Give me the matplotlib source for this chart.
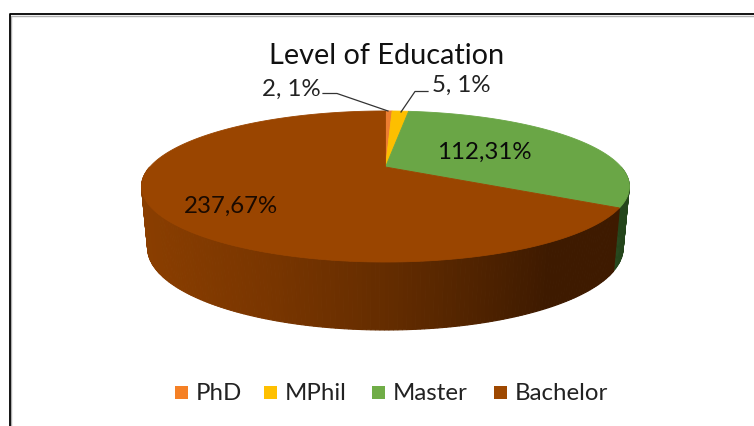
import numpy as np
import matplotlib
matplotlib.use('Agg')
import matplotlib.pyplot as plt
from matplotlib.patches import Polygon, Rectangle
from matplotlib.colors import LinearSegmentedColormap

plt.rcParams['font.family'] = ['Lato', 'DejaVu Sans']

labels = ['PhD', 'MPhil', 'Master', 'Bachelor']
values = [2, 5, 112, 237]
colors = ['#ed7d31', '#fdbf00', '#6aa646', '#9a4500']
swatch_colors = ['#f58025', '#ffc000', '#70ad47', '#9e4800']
label_texts = ['2, 1%', '5, 1%', '112,31%', '237,67%']

# projected pie geometry, in pixels
CX, CY = 385.5, 167
A, B, K = 235.7, 70.5, 0.258
SHRINK_X, SHRINK_Y, DEPTH = 0.975, 1.086, 59.8


def top(ang):
    # ang clockwise from north, circle pushed through a perspective
    u, v = np.sin(ang), np.cos(ang)
    w = 1 + K * v
    return CX + A * u / w, CY - B * v / w


def bottom(ang):
    x, y = top(ang)
    return CX + SHRINK_X * (x - CX), CY + SHRINK_Y * (y - CY) + DEPTH


def wall_strip(a0, a1, c, lw=0.8):
    pts = [top(a0), top(a1), bottom(a1), bottom(a0)]
    ax.add_patch(Polygon(pts, closed=True, fc=c, ec=c, lw=lw))


fig = plt.figure(figsize=(7.54, 4.26), dpi=100)
ax = fig.add_axes([0, 0, 1, 1])
ax.set_xlim(0, 754)
ax.set_ylim(426, 0)
ax.axis('off')

# frame of the screenshot
ax.plot([10.5, 10.5, 754], [426, 15.5, 15.5], color='#b0b0b0', lw=1.0)
ax.plot([9.5, 9.5, 754], [426, 14, 14], color='#000000', lw=1.3)

edges = np.concatenate([[0], np.cumsum(values)]) / sum(values) * 2 * np.pi

# green end of the wall, the brown one goes against it
green_angs = np.linspace(np.pi / 2, edges[3], 31)
for a0, a1 in zip(green_angs[:-1], green_angs[1:]):
    wall_strip(a0, a1, '#24451b', lw=0.5)

# side wall of the pie, shade goes with x, drawn from both ends to the front
side_brown = LinearSegmentedColormap.from_list(
    'side', [(0, '#8a3e00'), (0.25, '#7a3600'), (0.52, '#632c00'),
             (0.75, '#4a2000'), (0.85, '#3e1a00'), (1, '#3e1a00')])
n = 180
angs = np.linspace(edges[3], 3 * np.pi / 2, n + 1)
order = sorted(range(n), key=lambda i: abs(i + 0.5 - n / 2), reverse=True)
for i in order:
    a0, a1 = angs[i], angs[i + 1]
    x = top((a0 + a1) / 2)[0]
    wall_strip(a0, a1, side_brown((x - 142) / (622 - 142)))

# top face
for i in range(len(values)):
    t = np.linspace(edges[i], edges[i + 1], 200)
    xs, ys = top(t)
    pts = np.vstack([[CX, CY], np.column_stack([xs, ys])])
    ax.add_patch(Polygon(pts, closed=True, fc=colors[i], ec=colors[i], lw=0.6))

ax.text(386.5, 56, 'Level of Education', fontsize=20.8, ha='center', va='center', color='#111111')

ax.text(291, 89, label_texts[0], fontsize=17.3, ha='center', va='center', color='#222222')
ax.text(461, 85.5, label_texts[1], fontsize=17.3, ha='center', va='center', color='#222222')
ax.text(484.5, 152, label_texts[2], fontsize=17.3, ha='center', va='center', color='#0a0a0a')
ax.text(231, 206, label_texts[3], fontsize=17.3, ha='center', va='center', color='#1a0a00')

# leader lines
ax.plot([323, 337, 388], [93.5, 93.5, 111], color='#333333', lw=0.9)
ax.plot([401, 415, 428], [112, 91.5, 91.5], color='#333333', lw=0.9)

# legend
swatch_x = [174.5, 264, 372, 494]
text_x = [196, 285, 393, 515]
for i in range(len(labels)):
    ax.add_patch(Rectangle((swatch_x[i], 386), 13, 13, fc=swatch_colors[i], ec='none'))
    ax.text(text_x[i], 393.5, labels[i], fontsize=17.3, ha='left', va='center', color='#222222')

fig.savefig('out.png', dpi=100)
